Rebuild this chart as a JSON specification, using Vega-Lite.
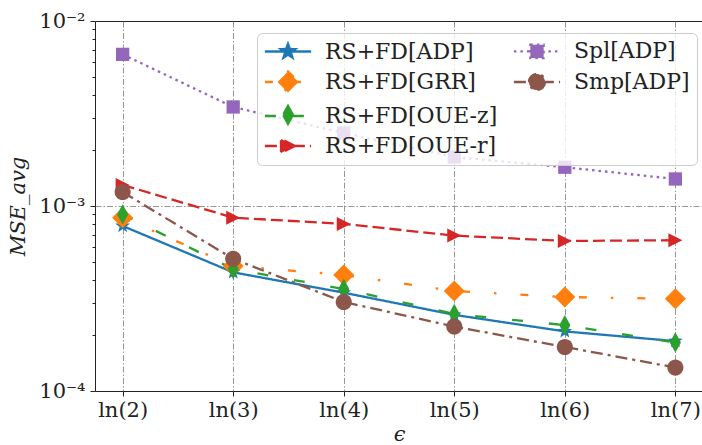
{
  "$schema": "https://vega.github.io/schema/vega-lite/v6.json",
  "width": 608,
  "height": 370,
  "autosize": {"type": "none"},
  "padding": {"left": 95, "top": 21, "right": 0, "bottom": 54},
  "config": {
    "view": {"stroke": "#222222", "strokeWidth": 1},
    "font": "DejaVu Serif"
  },
  "data": {
    "values": [
      {"series": "RS+FD[ADP]", "eps": "ln(2)", "mse": 0.00078},
      {"series": "RS+FD[ADP]", "eps": "ln(3)", "mse": 0.000438},
      {"series": "RS+FD[ADP]", "eps": "ln(4)", "mse": 0.00034},
      {"series": "RS+FD[ADP]", "eps": "ln(5)", "mse": 0.000258},
      {"series": "RS+FD[ADP]", "eps": "ln(6)", "mse": 0.00021},
      {"series": "RS+FD[ADP]", "eps": "ln(7)", "mse": 0.000186},
      {"series": "RS+FD[GRR]", "eps": "ln(2)", "mse": 0.000865},
      {"series": "RS+FD[GRR]", "eps": "ln(3)", "mse": 0.000474},
      {"series": "RS+FD[GRR]", "eps": "ln(4)", "mse": 0.000424},
      {"series": "RS+FD[GRR]", "eps": "ln(5)", "mse": 0.000347},
      {"series": "RS+FD[GRR]", "eps": "ln(6)", "mse": 0.000322},
      {"series": "RS+FD[GRR]", "eps": "ln(7)", "mse": 0.000315},
      {"series": "RS+FD[OUE-z]", "eps": "ln(2)", "mse": 0.0009},
      {"series": "RS+FD[OUE-z]", "eps": "ln(3)", "mse": 0.000456},
      {"series": "RS+FD[OUE-z]", "eps": "ln(4)", "mse": 0.000356},
      {"series": "RS+FD[OUE-z]", "eps": "ln(5)", "mse": 0.000261},
      {"series": "RS+FD[OUE-z]", "eps": "ln(6)", "mse": 0.000227},
      {"series": "RS+FD[OUE-z]", "eps": "ln(7)", "mse": 0.000183},
      {"series": "RS+FD[OUE-r]", "eps": "ln(2)", "mse": 0.0013},
      {"series": "RS+FD[OUE-r]", "eps": "ln(3)", "mse": 0.000865},
      {"series": "RS+FD[OUE-r]", "eps": "ln(4)", "mse": 0.0008},
      {"series": "RS+FD[OUE-r]", "eps": "ln(5)", "mse": 0.000692},
      {"series": "RS+FD[OUE-r]", "eps": "ln(6)", "mse": 0.000647},
      {"series": "RS+FD[OUE-r]", "eps": "ln(7)", "mse": 0.000653},
      {"series": "Spl[ADP]", "eps": "ln(2)", "mse": 0.0066},
      {"series": "Spl[ADP]", "eps": "ln(3)", "mse": 0.00343},
      {"series": "Spl[ADP]", "eps": "ln(4)", "mse": 0.00248},
      {"series": "Spl[ADP]", "eps": "ln(5)", "mse": 0.00184},
      {"series": "Spl[ADP]", "eps": "ln(6)", "mse": 0.00162},
      {"series": "Spl[ADP]", "eps": "ln(7)", "mse": 0.0014},
      {"series": "Smp[ADP]", "eps": "ln(2)", "mse": 0.00119},
      {"series": "Smp[ADP]", "eps": "ln(3)", "mse": 0.000518},
      {"series": "Smp[ADP]", "eps": "ln(4)", "mse": 0.000303},
      {"series": "Smp[ADP]", "eps": "ln(5)", "mse": 0.000223},
      {"series": "Smp[ADP]", "eps": "ln(6)", "mse": 0.000173},
      {"series": "Smp[ADP]", "eps": "ln(7)", "mse": 0.000134}
    ]
  },
  "encoding": {
    "x": {
      "field": "eps",
      "type": "ordinal",
      "sort": ["ln(2)", "ln(3)", "ln(4)", "ln(5)", "ln(6)", "ln(7)"],
      "scale": {"type": "point", "padding": 0.25},
      "axis": {
        "title": "ϵ",
        "labelAngle": 0,
        "grid": true,
        "gridDash": [6, 2, 1.5, 2],
        "gridColor": "#8a8a8a",
        "gridWidth": 0.9,
        "domain": false,
        "tickSize": 5,
        "tickColor": "#222222",
        "labelFont": "DejaVu Serif",
        "labelFontSize": 21,
        "labelColor": "#222222",
        "labelPadding": 3,
        "titleFont": "DejaVu Serif",
        "titleFontSize": 21,
        "titleFontStyle": "italic",
        "titleFontWeight": "normal",
        "titleColor": "#222222",
        "titlePadding": 3
      }
    },
    "y": {
      "field": "mse",
      "type": "quantitative",
      "scale": {"type": "log", "domain": [0.0001, 0.01], "nice": false},
      "axis": {
        "title": "MSE_avg",
        "values": [0.0001, 0.0002, 0.0003, 0.0004, 0.0005, 0.0006, 0.0007, 0.0008, 0.0009, 0.001, 0.002, 0.003, 0.004, 0.005, 0.006, 0.007, 0.008, 0.009, 0.01],
        "labelExpr": "datum.value === 0.0001 ? '10⁻⁴' : datum.value === 0.001 ? '10⁻³' : datum.value === 0.01 ? '10⁻²' : ''",
        "grid": true,
        "gridDash": [6, 2, 1.5, 2],
        "gridColor": "#8a8a8a",
        "gridWidth": 0.9,
        "gridOpacity": {"condition": {"test": "datum.value === 0.001", "value": 1}, "value": 0},
        "tickSize": {"condition": {"test": "datum.value === 0.0001 || datum.value === 0.001 || datum.value === 0.01", "value": 5}, "value": 3},
        "tickColor": "#222222",
        "domain": false,
        "labelFont": "DejaVu Serif",
        "labelFontSize": 21,
        "labelColor": "#222222",
        "labelPadding": 5,
        "labelOverlap": false,
        "titleFont": "DejaVu Serif",
        "titleFontSize": 21,
        "titleFontStyle": "italic",
        "titleFontWeight": "normal",
        "titleColor": "#222222",
        "titlePadding": 10
      }
    },
    "color": {
      "field": "series",
      "type": "nominal",
      "scale": {
        "domain": ["RS+FD[ADP]", "RS+FD[GRR]", "RS+FD[OUE-z]", "RS+FD[OUE-r]", "Spl[ADP]", "Smp[ADP]", " "],
        "range": ["#1f77b4", "#ff7f0e", "#2ca02c", "#d62728", "#9467bd", "#8c564b", "rgba(0,0,0,0)"]
      },
      "legend": {
        "title": null,
        "orient": "none",
        "legendX": 162,
        "legendY": 12,
        "columns": 2,
        "values": ["RS+FD[ADP]", "RS+FD[GRR]", "RS+FD[OUE-z]", "RS+FD[OUE-r]", "Spl[ADP]", "Smp[ADP]", " "],
        "labelFont": "DejaVu Serif",
        "labelFontSize": 22,
        "labelColor": "#222222",
        "labelLimit": 400,
        "symbolSize": 196,
        "symbolOffset": 13,
        "labelOffset": 26,
        "rowPadding": 3,
        "columnPadding": 11,
        "padding": 7,
        "strokeColor": "#cccccc",
        "fillColor": "rgba(255,255,255,0.8)",
        "cornerRadius": 5,
        "encode": {
          "symbols": {
            "update": {
              "shape": {"signal": "datum.value === ' ' ? 'M0,0' : 'M-3.3,0H-0.7M0.7,0H3.3' + scale('shape', datum.value)"},
              "strokeDash": {"signal": "datum.value === ' ' ? [1, 0] : scale('strokeDash', datum.value)"},
              "stroke": {"signal": "scale('color', datum.value)"},
              "fill": {"signal": "scale('color', datum.value)"},
              "strokeWidth": {"value": 2.3},
              "opacity": {"value": 1},
              "fillOpacity": {"value": 1},
              "strokeOpacity": {"value": 1}
            }
          }
        }
      }
    }
  },
  "layer": [
    {
      "mark": {"type": "line", "strokeWidth": 2.3},
      "encoding": {
        "strokeDash": {
          "field": "series",
          "type": "nominal",
          "scale": {
            "domain": ["RS+FD[ADP]", "RS+FD[GRR]", "RS+FD[OUE-z]", "RS+FD[OUE-r]", "Spl[ADP]", "Smp[ADP]"],
            "range": [[1, 0], [8, 24, 2.5, 24], [11, 26], [12, 5], [2.5, 4], [12, 5, 3, 5]]
          },
          "legend": null
        }
      }
    },
    {
      "mark": {"type": "point", "filled": true, "size": 196, "opacity": 1, "strokeWidth": 0},
      "encoding": {
        "shape": {
          "field": "series",
          "type": "nominal",
          "scale": {
            "domain": ["RS+FD[ADP]", "RS+FD[GRR]", "RS+FD[OUE-z]", "RS+FD[OUE-r]", "Spl[ADP]", "Smp[ADP]"],
            "range": [
              "M0,-1.1L0.265,-0.364L1.046,-0.34L0.428,0.139L0.647,0.89L0,0.45L-0.647,0.89L-0.428,0.139L-1.046,-0.34L-0.265,-0.364Z",
              "M0,-1.5L1.5,0L0,1.5L-1.5,0Z",
              "M0,-1.45L0.8,0L0,1.45L-0.8,0Z",
              "M1,0L-1,-1L-1,1Z",
              "M-0.95,-0.95H0.95V0.95H-0.95Z",
              "M1.15,0A1.15,1.15,0,1,1,-1.15,0A1.15,1.15,0,1,1,1.15,0Z"
            ]
          },
          "legend": null
        }
      }
    }
  ]
}
